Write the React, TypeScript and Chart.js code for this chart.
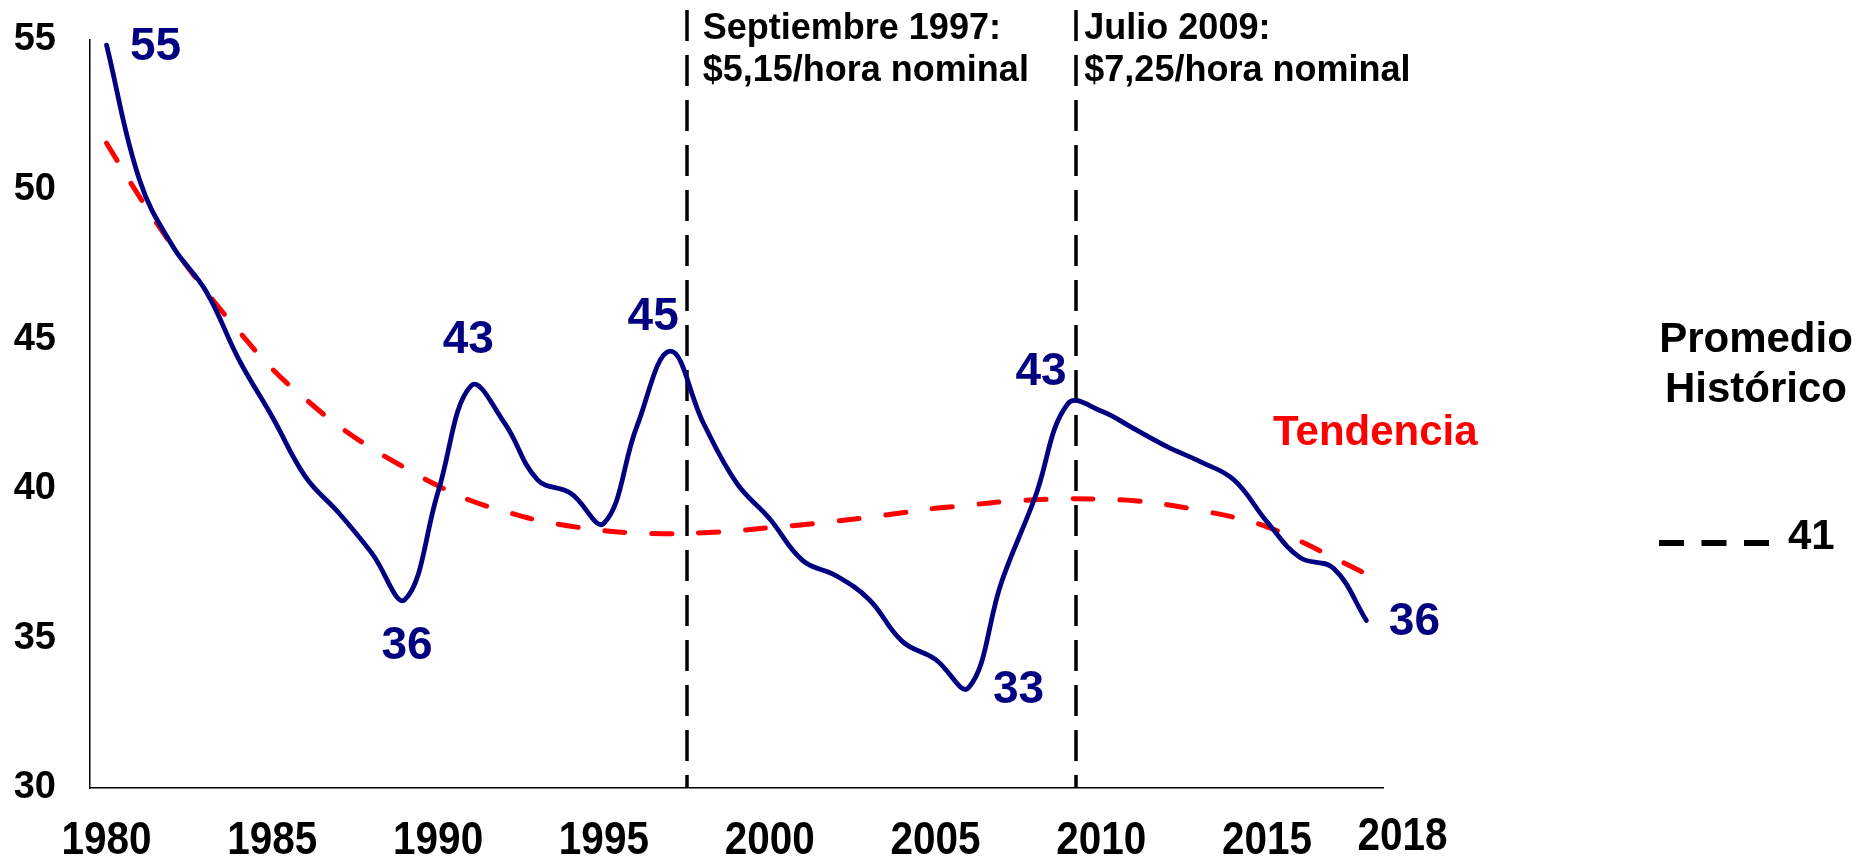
import { useEffect, useRef } from 'react';
import { Chart, registerables } from 'chart.js';

Chart.register(...registerables);

// Annual series, 1980–2018
const years = [
  1980, 1981, 1982, 1983, 1984, 1985, 1986, 1987, 1988, 1989,
  1990, 1991, 1992, 1993, 1994, 1995, 1996, 1997, 1998, 1999,
  2000, 2001, 2002, 2003, 2004, 2005, 2006, 2007, 2008, 2009,
  2010, 2011, 2012, 2013, 2014, 2015, 2016, 2017, 2018,
];

const seriesValues = [
  54.83, 50.3, 48.1, 46.6, 44.3, 42.4, 40.4, 39.2, 37.85, 36.3,
  39.9, 43.45, 42.2, 40.3, 39.85, 38.85, 42.1, 44.6, 42.2, 40.2,
  39.0, 37.6, 37.1, 36.3, 34.9, 34.3, 33.35, 36.9, 39.7, 42.85,
  42.6, 42.0, 41.4, 40.9, 40.3, 38.9, 37.7, 37.35, 35.6,
];

const trendValues = [
  51.55, 49.75, 48.1, 46.6, 45.25, 44.0, 43.0, 42.1, 41.35, 40.7,
  40.1, 39.6, 39.25, 38.95, 38.75, 38.6, 38.52, 38.5, 38.53, 38.6,
  38.7, 38.8, 38.92, 39.05, 39.2, 39.35, 39.45, 39.57, 39.63, 39.67,
  39.65, 39.6, 39.47, 39.27, 39.05, 38.73, 38.25, 37.7, 37.15,
];

const xTickYears = [1980, 1985, 1990, 1995, 2000, 2005, 2010, 2015, 2018];
const yMin = 30;
const yMax = 55;
const yStep = 5;

const labeledYears = [1980, 1989, 1991, 1997, 2006, 2009, 2018];
const historicalAverage = 41;

const wageChanges = [
  { at: 1997.5, lines: ['Septiembre 1997:', '$5,15/hora nominal'] },
  { at: 2009.25, lines: ['Julio 2009:', '$7,25/hora nominal'] },
];

const FONT = '"Liberation Sans", Arial, Helvetica, sans-serif';
const NAVY = '#000080';
const RED = '#ff0000';

// pixel offsets of each value label from its point
const labelOffsets: Record<number, [number, number]> = {
  1980: [49, 2],
  1989: [2, 47],
  1991: [-3, -45],
  1997: [-17, -34],
  2006: [50, 3],
  2009: [-27, -31],
  2018: [48, 2],
};

const overlayPlugin = {
  id: 'overlay',
  beforeDatasetsDraw(chart: any) {
    const { ctx, chartArea, scales } = chart;
    ctx.save();
    ctx.strokeStyle = '#000';
    ctx.lineWidth = 3.5;
    ctx.setLineDash([31, 14]);
    wageChanges.forEach((w) => {
      const x = Math.round(scales.x.getPixelForValue(w.at));
      ctx.beginPath();
      ctx.moveTo(x, 10);
      ctx.lineTo(x, chartArea.bottom);
      ctx.stroke();
    });
    ctx.restore();
  },
  afterDraw(chart: any) {
    const { ctx, scales } = chart;
    ctx.save();

    // x-axis year labels (narrow bold face)
    ctx.fillStyle = '#000';
    ctx.textAlign = 'center';
    ctx.textBaseline = 'middle';
    ctx.font = `bold 46px ${FONT}`;
    xTickYears.forEach((yr) => {
      const last = yr === xTickYears[xTickYears.length - 1];
      const x = scales.x.getPixelForValue(yr) + (last ? 36 : 0);
      const y = last ? 837 : 841;
      ctx.save();
      ctx.translate(x, y);
      ctx.scale(0.88, 1);
      ctx.fillText(String(yr), 0, 0);
      ctx.restore();
    });

    // value labels on the series
    const meta = chart.getDatasetMeta(0);
    ctx.fillStyle = NAVY;
    ctx.font = `bold 46px ${FONT}`;
    labeledYears.forEach((yr) => {
      const i = years.indexOf(yr);
      const pt = meta.data[i];
      const [dx, dy] = labelOffsets[yr];
      ctx.fillText(String(Math.round(seriesValues[i])), pt.x + dx, pt.y + dy);
    });

    // minimum wage annotations
    ctx.fillStyle = '#000';
    ctx.textAlign = 'left';
    ctx.textBaseline = 'alphabetic';
    ctx.font = `bold 36px ${FONT}`;
    wageChanges.forEach((w, k) => {
      const x = scales.x.getPixelForValue(w.at) + (k === 0 ? 16 : 8);
      ctx.fillText(w.lines[0], x, 39);
      ctx.fillText(w.lines[1], x, 81);
    });

    // trend label
    ctx.fillStyle = RED;
    ctx.font = `bold 42px ${FONT}`;
    ctx.fillText('Tendencia', 1273, 445);

    // historical average legend
    ctx.fillStyle = '#000';
    ctx.textAlign = 'center';
    ctx.fillText('Promedio', 1756, 352);
    ctx.fillText('Histórico', 1756, 402);
    ctx.strokeStyle = '#000';
    ctx.lineWidth = 6;
    ctx.setLineDash([25, 17.5]);
    ctx.beginPath();
    ctx.moveTo(1659, 543);
    ctx.lineTo(1769, 543);
    ctx.stroke();
    ctx.setLineDash([]);
    ctx.textAlign = 'left';
    ctx.fillText(String(historicalAverage), 1788, 549);

    ctx.restore();
  },
};

export default function App() {
  const canvasRef = useRef<HTMLCanvasElement | null>(null);

  useEffect(() => {
    const canvas = canvasRef.current;
    if (!canvas) return;
    const chart = new Chart(canvas, {
      type: 'line',
      data: {
        datasets: [
          {
            label: 'Serie',
            data: years.map((yr, i) => ({ x: yr, y: seriesValues[i] })),
            borderColor: NAVY,
            borderWidth: 4.8,
            borderCapStyle: 'round',
            borderJoinStyle: 'round',
            pointRadius: 0,
            tension: 0.4,
            fill: false,
          },
          {
            label: 'Tendencia',
            data: years.map((yr, i) => ({ x: yr, y: trendValues[i] })),
            borderColor: RED,
            borderWidth: 5,
            borderDash: [20, 27],
            borderCapStyle: 'round',
            pointRadius: 0,
            tension: 0.4,
            fill: false,
          },
        ],
      },
      options: {
        animation: false,
        responsive: false,
        devicePixelRatio: 1,
        layout: { padding: { left: 0, right: 482, top: 40, bottom: 0 } },
        plugins: {
          legend: { display: false },
          tooltip: { enabled: false },
        },
        scales: {
          x: {
            type: 'linear',
            min: 1979.5,
            max: 2018.5,
            grid: { display: false, drawTicks: false },
            border: { display: true, color: '#000', width: 1.5 },
            ticks: { display: false },
            afterFit: (scale: any) => {
              scale.height = 77;
            },
          },
          y: {
            min: yMin,
            max: yMax,
            grid: { display: false, drawTicks: false },
            border: { display: true, color: '#000', width: 1.5 },
            ticks: {
              stepSize: yStep,
              color: '#000',
              padding: 34,
              font: { family: FONT, size: 38, weight: 'bold' },
            },
            afterFit: (scale: any) => {
              scale.width = 90;
              scale.paddingTop = 0;
              scale.paddingBottom = 0;
            },
          },
        },
      },
      plugins: [overlayPlugin],
    } as any);
    return () => chart.destroy();
  }, []);

  return (
    <div style={{ position: 'fixed', left: 0, top: 0, width: 1865, height: 865, background: '#fff' }}>
      <canvas ref={canvasRef} width={1865} height={865} style={{ display: 'block' }} />
    </div>
  );
}
